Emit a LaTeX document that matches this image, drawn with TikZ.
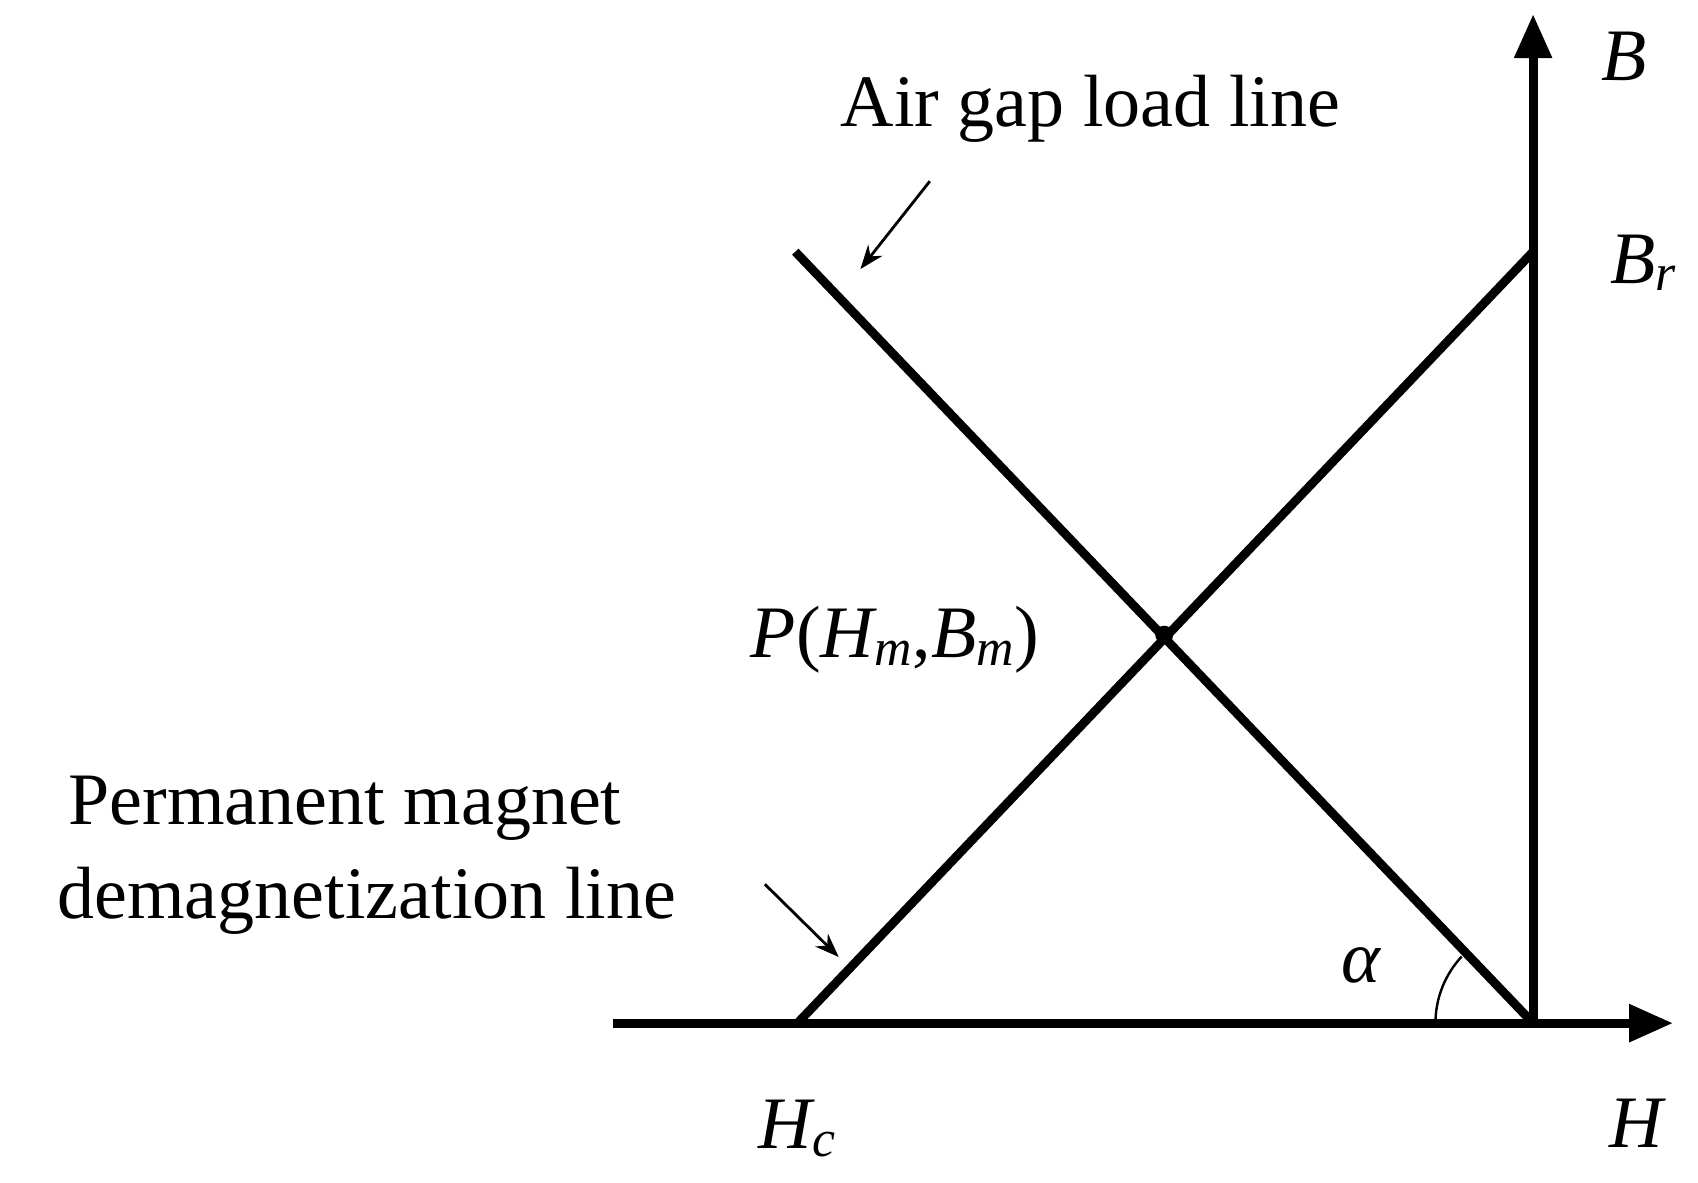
\documentclass[tikz,border=0pt]{standalone}
\usepackage{fontspec}
\setmainfont{Liberation Serif}
\usetikzlibrary{arrows.meta}
\begin{document}
\begin{tikzpicture}[x=0.5425pt,y=-0.5425pt,
  thick line/.style={line width=4.4pt},
  axis/.style={line width=4.4pt,-{Triangle[length=22pt,width=18pt]}},
  pointer/.style={line width=1.4pt,-{Stealth[length=12pt,width=9pt]}},
  lbl/.style={font=\fontsize{37}{40}\selectfont,inner sep=0pt}]
\useasboundingbox (0,0) rectangle (1565,1090);
\coordinate (O) at (1413,943);
\coordinate (Hs) at (565,943);
\coordinate (He) at (1542,943);
\coordinate (Be) at (1413,13);
\coordinate (Br) at (1413,232);
\coordinate (Hc) at (735,943);
\coordinate (L) at (733,232);
\node[circle,fill,inner sep=0pt,minimum size=9pt] (P) at (1073,585) {};
\draw[axis] (Hs) -- (He);
\draw[axis] (O) -- (Be);
\draw[thick line] (Hc) -- (Br);
\draw[thick line] (L) -- (O);
\draw[line width=1.2pt] ([shift={(180:90)}]O) arc[start angle=180,end angle=137,radius=90*0.5425pt];
\node[lbl] (tB) at (1497,52) {\textit{B}};
\node[lbl] (tBr) at (1515,242) {\textit{B\textsubscript{r}}};
\node[lbl] (tAir) at (1005,100) {Air gap load line};
\coordinate (a1) at (857,167);
\coordinate (a2) at (793,248);
\draw[pointer] (a1) -- (a2);
\node[lbl] (tP) at (825,590) {\textit{P}(\textit{H\textsubscript{m}},\textit{B\textsubscript{m}})};
\node[lbl] (tPM1) at (318,745) {Permanent magnet};
\node[lbl] (tPM2) at (338,830) {demagnetization line};
\coordinate (b1) at (705,815);
\coordinate (b2) at (773,882);
\draw[pointer] (b1) -- (b2);
\node[lbl] (tal) at (1255,890) {\textit{α}};
\node[lbl] (tHc) at (735,1040) {\textit{H\textsubscript{c}}};
\node[lbl] (tH) at (1510,1035) {\textit{H}};
\end{tikzpicture}
\end{document}
